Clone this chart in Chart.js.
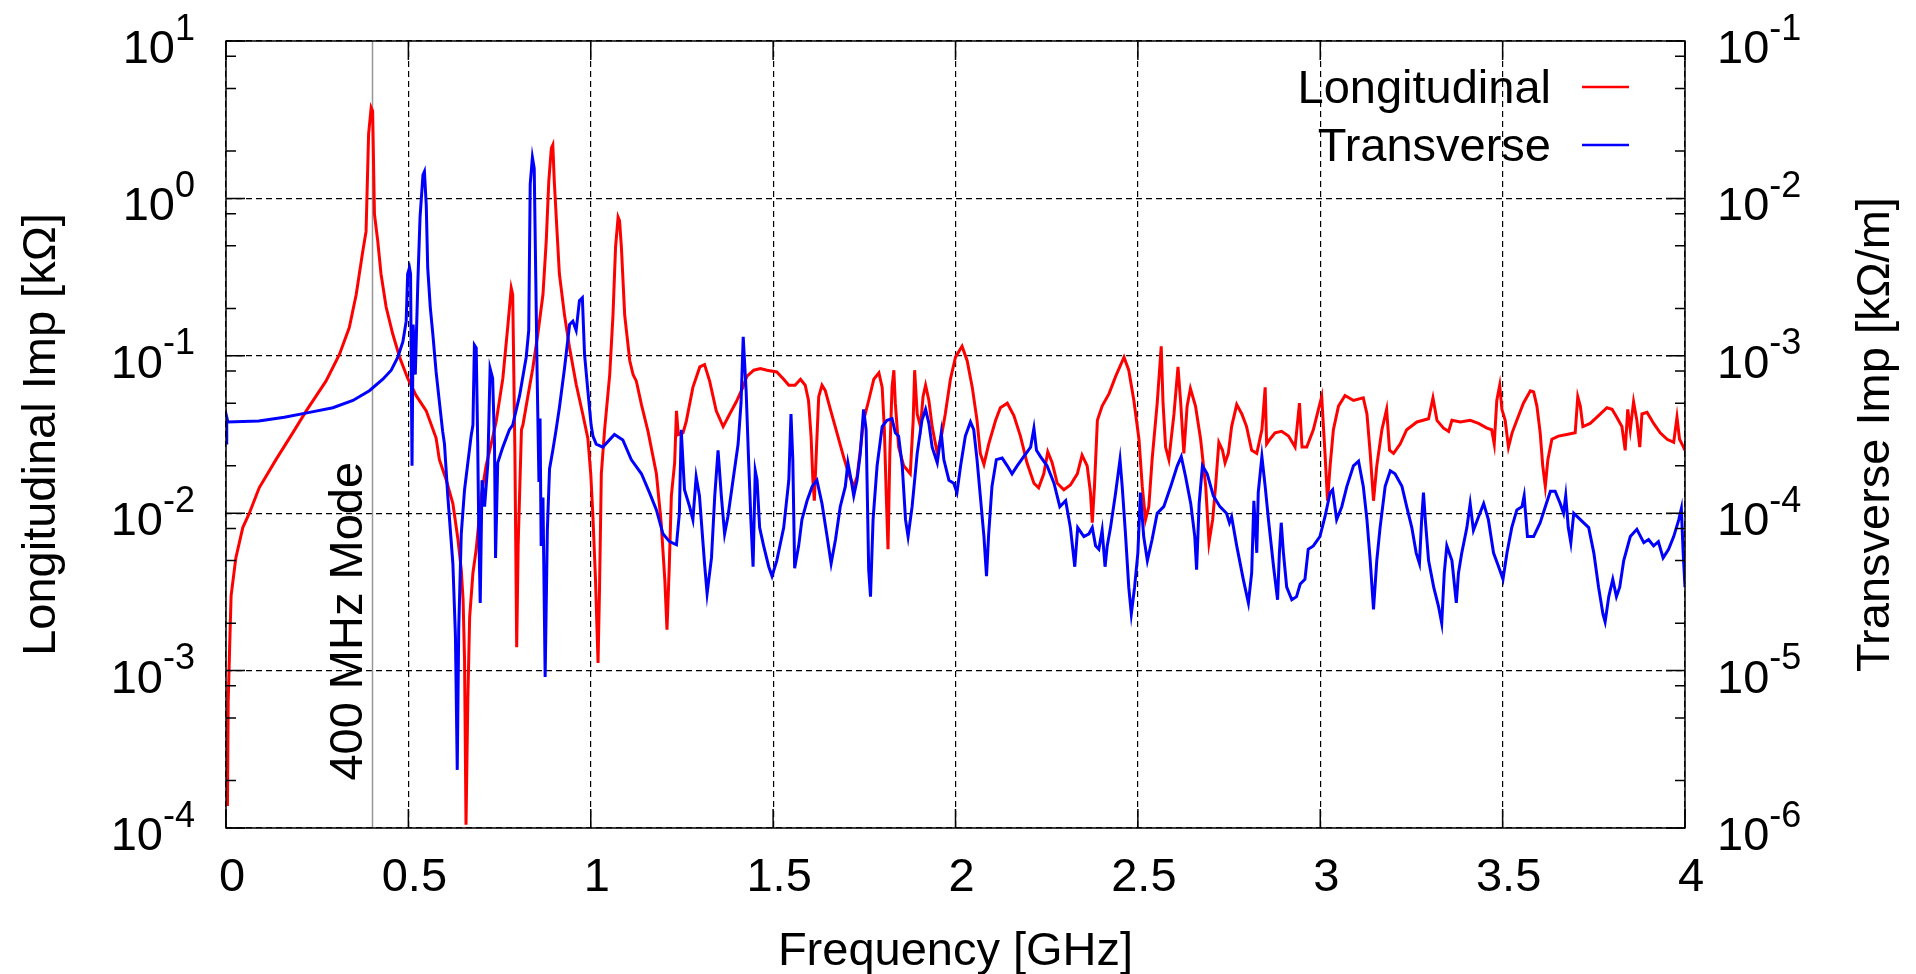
<!DOCTYPE html>
<html>
<head>
<meta charset="utf-8">
<script src="https://cdn.jsdelivr.net/npm/chart.js"></script>
<style>
  html, body { margin: 0; padding: 0; background: #fff; }
  #wrap { width: 1916px; height: 974px; }
</style>
</head>
<body>
<div id="wrap"><canvas id="myChart"></canvas></div>
<script>
// Longitudinal impedance [kOhm] vs frequency [GHz]
const freqL = [
  0.004, 0.006, 0.010, 0.014, 0.027, 0.046, 0.064, 0.091, 0.137, 0.183,
  0.220, 0.274, 0.311, 0.338, 0.357, 0.375, 0.384, 0.391, 0.398, 0.402,
  0.407, 0.416, 0.425, 0.439, 0.457, 0.476, 0.498, 0.521, 0.549, 0.576,
  0.585, 0.604, 0.622, 0.636, 0.645, 0.650, 0.654, 0.658, 0.663, 0.668,
  0.677, 0.686, 0.700, 0.713, 0.727, 0.741, 0.759, 0.773, 0.782, 0.786,
  0.788, 0.792, 0.797, 0.801, 0.810, 0.814, 0.828, 0.841, 0.855, 0.869,
  0.878, 0.885, 0.892, 0.896, 0.900, 0.908, 0.914, 0.928, 0.942, 0.960,
  0.978, 0.992, 1.000, 1.006, 1.013, 1.020, 1.024, 1.029, 1.038, 1.052,
  1.061, 1.068, 1.075, 1.079, 1.084, 1.093, 1.107, 1.116, 1.125, 1.139,
  1.157, 1.180, 1.193, 1.203, 1.209, 1.215, 1.221, 1.230, 1.235, 1.240,
  1.253, 1.262, 1.280, 1.299, 1.312, 1.326, 1.344, 1.363, 1.381, 1.399,
  1.417, 1.428, 1.447, 1.465, 1.483, 1.510, 1.529, 1.543, 1.560, 1.575,
  1.588, 1.597, 1.604, 1.609, 1.613, 1.619, 1.625, 1.634, 1.643, 1.657,
  1.675, 1.693, 1.707, 1.721, 1.730, 1.739, 1.748, 1.762, 1.776, 1.790,
  1.799, 1.805, 1.810, 1.815, 1.820, 1.826, 1.831, 1.835, 1.844, 1.858,
  1.876, 1.884, 1.888, 1.895, 1.904, 1.911, 1.918, 1.927, 1.936, 1.950,
  1.963, 1.972, 1.986, 2.000, 2.018, 2.032, 2.046, 2.059, 2.068, 2.078,
  2.091, 2.110, 2.123, 2.142, 2.160, 2.178, 2.196, 2.215, 2.228, 2.242,
  2.253, 2.265, 2.279, 2.297, 2.315, 2.334, 2.347, 2.361, 2.370, 2.375,
  2.381, 2.389, 2.402, 2.421, 2.439, 2.462, 2.475, 2.489, 2.503, 2.512,
  2.521, 2.530, 2.539, 2.553, 2.564, 2.569, 2.576, 2.585, 2.599, 2.610,
  2.617, 2.626, 2.635, 2.644, 2.658, 2.672, 2.686, 2.695, 2.705, 2.713,
  2.722, 2.732, 2.739, 2.748, 2.757, 2.771, 2.785, 2.798, 2.812, 2.826,
  2.840, 2.849, 2.853, 2.862, 2.876, 2.894, 2.913, 2.931, 2.943, 2.950,
  2.963, 2.981, 2.995, 3.004, 3.013, 3.020, 3.027, 3.036, 3.050, 3.068,
  3.091, 3.118, 3.128, 3.137, 3.146, 3.155, 3.169, 3.182, 3.190, 3.201,
  3.219, 3.237, 3.265, 3.297, 3.309, 3.320, 3.338, 3.352, 3.361, 3.384,
  3.411, 3.434, 3.457, 3.470, 3.477, 3.484, 3.492, 3.498, 3.507, 3.516,
  3.526, 3.539, 3.557, 3.576, 3.585, 3.594, 3.603, 3.610, 3.617, 3.624,
  3.635, 3.653, 3.676, 3.699, 3.706, 3.713, 3.720, 3.740, 3.763, 3.786,
  3.800, 3.813, 3.827, 3.836, 3.843, 3.850, 3.859, 3.868, 3.876, 3.882,
  3.896, 3.914, 3.932, 3.951, 3.969, 3.978, 3.985, 3.996, 4.000
];
const longImp = [
  1.38e-4, 6.3e-4, 1.41e-3, 3.0e-3, 5.2e-3, 8.1e-3, 1.0e-2, 1.45e-2, 2.19e-2, 3.24e-2,
  4.47e-2, 6.9e-2, 0.102, 0.151, 0.245, 0.462, 0.617, 2.57, 3.77, 3.59,
  0.794, 0.537, 0.331, 0.204, 0.138, 9.8e-2, 7.2e-2, 5.6e-2, 4.47e-2, 3.0e-2,
  2.19e-2, 1.62e-2, 1.15e-2, 6.8e-3, 4.37e-3, 2.82e-3, 1.17e-3, 1.05e-4, 6.5e-4, 2.19e-3,
  4.17e-3, 5.9e-3, 1.29e-2, 2.0e-2, 2.75e-2, 3.85e-2, 7.2e-2, 0.158, 0.269, 0.245,
  0.117, 2.5e-2, 1.41e-3, 6.3e-3, 3.39e-2, 3.63e-2, 5.6e-2, 8.3e-2, 0.138, 0.245,
  0.537, 1.29, 2.09, 2.19, 1.29, 0.59, 0.331, 0.182, 0.112, 6.6e-2,
  4.27e-2, 3.0e-2, 1.78e-2, 9.5e-3, 3.8e-3, 1.12e-3, 3.24e-3, 1.78e-2, 3.39e-2, 7.6e-2,
  0.182, 0.49, 0.76, 0.72, 0.49, 0.182, 9.3e-2, 7.6e-2, 6.9e-2, 4.9e-2,
  3.31e-2, 1.78e-2, 8.7e-3, 3.8e-3, 1.82e-3, 4.37e-3, 1.29e-2, 2.09e-2, 4.47e-2, 3.16e-2,
  3.24e-2, 3.85e-2, 6.3e-2, 8.5e-2, 8.8e-2, 6.9e-2, 4.47e-2, 3.55e-2, 4.27e-2, 5.1e-2,
  6.3e-2, 7.4e-2, 8.1e-2, 8.3e-2, 8.1e-2, 7.9e-2, 7.1e-2, 6.5e-2, 6.5e-2, 7.1e-2,
  6.5e-2, 5.2e-2, 3.09e-2, 1.62e-2, 1.2e-2, 2.63e-2, 5.5e-2, 6.5e-2, 6.0e-2, 4.57e-2,
  3.24e-2, 2.29e-2, 1.78e-2, 1.48e-2, 1.7e-2, 2.51e-2, 3.89e-2, 5.2e-2, 7.1e-2, 7.8e-2,
  6.3e-2, 3.39e-2, 1.35e-2, 5.9e-3, 2.4e-2, 6.3e-2, 8.1e-2, 5.0e-2, 2.63e-2, 2.0e-2,
  1.78e-2, 3.89e-2, 8.1e-2, 4.27e-2, 3.55e-2, 5.5e-2, 6.5e-2, 5.2e-2, 3.55e-2, 2.4e-2,
  3.24e-2, 4.27e-2, 7.1e-2, 9.8e-2, 0.115, 9.3e-2, 6.3e-2, 3.89e-2, 2.4e-2, 2.04e-2,
  2.75e-2, 3.89e-2, 4.68e-2, 5.0e-2, 4.17e-2, 3.09e-2, 2.09e-2, 1.55e-2, 1.45e-2, 1.78e-2,
  2.45e-2, 2.09e-2, 1.55e-2, 1.41e-2, 1.51e-2, 1.78e-2, 2.34e-2, 2.0e-2, 1.35e-2, 8.7e-3,
  1.48e-2, 3.89e-2, 4.79e-2, 5.75e-2, 7.4e-2, 9.8e-2, 8.1e-2, 5.2e-2, 2.95e-2, 1.48e-2,
  9.1e-3, 1.1e-2, 2.19e-2, 5.0e-2, 0.115, 5.0e-2, 2.63e-2, 2.19e-2, 4.27e-2, 8.5e-2,
  5.2e-2, 2.4e-2, 4.79e-2, 6.2e-2, 4.79e-2, 2.95e-2, 1.48e-2, 6.5e-3, 9.1e-3, 1.48e-2,
  2.82e-2, 2.51e-2, 2.09e-2, 2.4e-2, 3.55e-2, 4.9e-2, 4.27e-2, 3.55e-2, 2.51e-2, 2.4e-2,
  3.39e-2, 6.3e-2, 2.75e-2, 2.95e-2, 3.24e-2, 3.31e-2, 3.09e-2, 2.63e-2, 5.0e-2, 2.63e-2,
  2.63e-2, 3.39e-2, 4.57e-2, 5.5e-2, 2.4e-2, 1.2e-2, 2.0e-2, 3.39e-2, 4.79e-2, 5.6e-2,
  5.2e-2, 5.4e-2, 4.27e-2, 2.4e-2, 1.2e-2, 2.0e-2, 3.39e-2, 4.57e-2, 2.51e-2, 2.4e-2,
  2.75e-2, 3.39e-2, 3.8e-2, 3.98e-2, 5.4e-2, 3.89e-2, 3.47e-2, 3.31e-2, 3.89e-2, 3.8e-2,
  3.89e-2, 3.72e-2, 3.47e-2, 3.39e-2, 2.75e-2, 5.2e-2, 6.5e-2, 4.57e-2, 3.89e-2, 2.63e-2,
  3.24e-2, 3.89e-2, 5.0e-2, 6.0e-2, 5.9e-2, 4.79e-2, 3.24e-2, 2.0e-2, 1.48e-2, 2.19e-2,
  2.95e-2, 3.09e-2, 3.16e-2, 3.24e-2, 5.5e-2, 4.79e-2, 3.55e-2, 3.72e-2, 4.17e-2, 4.68e-2,
  4.57e-2, 4.07e-2, 3.55e-2, 2.51e-2, 4.57e-2, 3.39e-2, 5.1e-2, 3.89e-2, 2.63e-2, 4.27e-2,
  4.37e-2, 3.72e-2, 3.24e-2, 2.95e-2, 2.82e-2, 4.07e-2, 2.95e-2, 2.63e-2, 2.51e-2
];

// Transverse impedance [kOhm/m] vs frequency [GHz]
const freqT = [
  0.000, 0.002, 0.005, 0.090, 0.160, 0.229, 0.293, 0.348, 0.393, 0.430,
  0.453, 0.471, 0.485, 0.494, 0.498, 0.503, 0.506, 0.510, 0.513, 0.519,
  0.526, 0.532, 0.540, 0.544, 0.549, 0.553, 0.560, 0.567, 0.576, 0.585,
  0.594, 0.599, 0.608, 0.622, 0.629, 0.634, 0.638, 0.645, 0.654, 0.663,
  0.672, 0.677, 0.681, 0.686, 0.690, 0.693, 0.697, 0.702, 0.709, 0.718,
  0.724, 0.731, 0.736, 0.739, 0.745, 0.759, 0.777, 0.786, 0.805, 0.823,
  0.830, 0.834, 0.840, 0.845, 0.849, 0.853, 0.858, 0.861, 0.864, 0.869,
  0.875, 0.881, 0.887, 0.896, 0.905, 0.914, 0.928, 0.942, 0.951, 0.960,
  0.969, 0.977, 0.983, 0.992, 1.001, 1.006, 1.015, 1.033, 1.065, 1.088,
  1.111, 1.139, 1.161, 1.180, 1.198, 1.216, 1.235, 1.243, 1.248, 1.257,
  1.271, 1.280, 1.289, 1.298, 1.312, 1.319, 1.331, 1.340, 1.349, 1.358,
  1.367, 1.376, 1.390, 1.404, 1.412, 1.418, 1.426, 1.433, 1.439, 1.445,
  1.451, 1.456, 1.463, 1.474, 1.488, 1.497, 1.510, 1.529, 1.543, 1.549,
  1.554, 1.559, 1.570, 1.579, 1.593, 1.607, 1.620, 1.634, 1.648, 1.659,
  1.671, 1.684, 1.698, 1.705, 1.714, 1.721, 1.730, 1.739, 1.748, 1.755,
  1.762, 1.767, 1.774, 1.785, 1.799, 1.812, 1.826, 1.835, 1.844, 1.854,
  1.863, 1.870, 1.881, 1.895, 1.908, 1.918, 1.927, 1.936, 1.950, 1.961,
  1.968, 1.982, 1.995, 2.004, 2.014, 2.027, 2.041, 2.050, 2.059, 2.068,
  2.078, 2.085, 2.091, 2.100, 2.112, 2.128, 2.142, 2.155, 2.169, 2.187,
  2.206, 2.215, 2.222, 2.233, 2.251, 2.270, 2.286, 2.302, 2.315, 2.327,
  2.335, 2.352, 2.366, 2.375, 2.384, 2.393, 2.402, 2.410, 2.416, 2.425,
  2.439, 2.451, 2.457, 2.466, 2.475, 2.482, 2.491, 2.500, 2.507, 2.516,
  2.526, 2.539, 2.553, 2.571, 2.590, 2.608, 2.619, 2.631, 2.645, 2.656,
  2.661, 2.668, 2.677, 2.690, 2.707, 2.725, 2.743, 2.751, 2.757, 2.771,
  2.789, 2.803, 2.812, 2.818, 2.826, 2.830, 2.840, 2.849, 2.858, 2.872,
  2.883, 2.888, 2.893, 2.899, 2.908, 2.922, 2.935, 2.945, 2.958, 2.967,
  2.981, 2.999, 3.013, 3.027, 3.034, 3.045, 3.059, 3.073, 3.091, 3.105,
  3.118, 3.128, 3.137, 3.146, 3.155, 3.164, 3.178, 3.192, 3.205, 3.224,
  3.237, 3.251, 3.263, 3.272, 3.278, 3.283, 3.288, 3.297, 3.311, 3.324,
  3.333, 3.340, 3.347, 3.361, 3.373, 3.379, 3.388, 3.402, 3.411, 3.420,
  3.434, 3.448, 3.461, 3.475, 3.489, 3.501, 3.512, 3.525, 3.539, 3.553,
  3.559, 3.568, 3.585, 3.603, 3.617, 3.631, 3.644, 3.658, 3.667, 3.673,
  3.680, 3.687, 3.695, 3.713, 3.736, 3.750, 3.763, 3.775, 3.781, 3.791,
  3.802, 3.812, 3.821, 3.832, 3.850, 3.868, 3.887, 3.900, 3.914, 3.927,
  3.940, 3.955, 3.969, 3.983, 3.990, 3.995, 4.000
];
const transImp = [
  2.79e-4, 4.07e-4, 3.8e-4, 3.85e-4, 4.07e-4, 4.37e-4, 4.68e-4, 5.2e-4, 6.0e-4, 7.1e-4,
  8.1e-4, 9.8e-4, 1.23e-3, 1.66e-3, 3.31e-3, 3.63e-3, 3.31e-3, 2.0e-4, 1.58e-3, 7.6e-4,
  2.95e-3, 7.6e-3, 1.41e-2, 1.48e-2, 9.1e-3, 3.63e-3, 2.04e-3, 1.38e-3, 7.9e-4, 5.1e-4,
  3.31e-4, 2.75e-4, 1.29e-4, 4.79e-5, 1.66e-5, 2.34e-6, 1.82e-5, 7.4e-5, 1.41e-4, 2.09e-4,
  3.09e-4, 3.63e-4, 1.17e-3, 1.12e-3, 2.88e-4, 7.8e-5, 2.69e-5, 1.62e-4, 1.1e-4, 2.09e-4,
  8.3e-4, 7.2e-4, 2.88e-4, 5.2e-5, 2.09e-4, 2.63e-4, 3.39e-4, 3.63e-4, 5.6e-4, 9.8e-4,
  1.45e-3, 1.23e-2, 1.82e-2, 1.55e-2, 3.47e-3, 7.6e-4, 1.58e-4, 4.0e-4, 6.2e-5, 1.26e-4,
  9.1e-6, 7.8e-5, 1.91e-4, 2.51e-4, 3.39e-4, 4.68e-4, 8.3e-4, 1.58e-3, 1.66e-3, 1.45e-3,
  2.24e-3, 2.34e-3, 1.02e-3, 6.0e-4, 3.63e-4, 3.09e-4, 2.75e-4, 2.63e-4, 3.16e-4, 2.92e-4,
  2.19e-4, 1.78e-4, 1.35e-4, 1.05e-4, 7.4e-5, 6.6e-5, 6.3e-5, 1.0e-4, 3.39e-4, 1.41e-4,
  1.1e-4, 9.1e-5, 1.7e-4, 1.29e-4, 4.79e-5, 3.09e-5, 5.2e-5, 1.29e-4, 2.51e-4, 1.29e-4,
  7.4e-5, 9.5e-5, 1.62e-4, 2.75e-4, 5.0e-4, 1.32e-3, 6.0e-4, 2.09e-4, 9.1e-5, 4.57e-5,
  1.86e-4, 1.62e-4, 8.1e-5, 6.2e-5, 4.57e-5, 3.98e-5, 5.0e-5, 8.1e-5, 1.62e-4, 4.27e-4,
  2.19e-4, 4.47e-5, 6.2e-5, 9.1e-5, 1.2e-4, 1.48e-4, 1.62e-4, 1.15e-4, 7.1e-5, 4.79e-5,
  6.8e-5, 1.1e-4, 1.48e-4, 2.09e-4, 1.62e-4, 1.29e-4, 1.62e-4, 2.4e-4, 4.57e-4, 3.39e-4,
  4.37e-5, 2.95e-5, 9.1e-5, 2.0e-4, 3.55e-4, 3.89e-4, 3.98e-4, 3.24e-4, 3.09e-4, 2.0e-4,
  9.1e-5, 7.1e-5, 1.1e-4, 2.4e-4, 3.89e-4, 4.57e-4, 3.72e-4, 2.63e-4, 2.09e-4, 3.24e-4,
  2.19e-4, 1.62e-4, 1.55e-4, 1.35e-4, 2.0e-4, 3.09e-4, 3.8e-4, 3.39e-4, 2.19e-4, 1.29e-4,
  7.1e-5, 3.98e-5, 7.4e-5, 1.48e-4, 2.19e-4, 2.24e-4, 2.0e-4, 1.78e-4, 2.0e-4, 2.29e-4,
  2.63e-4, 3.47e-4, 2.51e-4, 2.29e-4, 2.0e-4, 1.55e-4, 1.1e-4, 1.2e-4, 8.1e-5, 4.57e-5,
  8.1e-5, 7.1e-5, 7.4e-5, 8.1e-5, 6.2e-5, 5.9e-5, 7.8e-5, 4.57e-5, 6.2e-5, 8.1e-5,
  1.35e-4, 2.19e-4, 1.48e-4, 7.4e-5, 3.39e-5, 2.29e-5, 3.39e-5, 5.6e-5, 1.35e-4, 7.1e-5,
  5.0e-5, 6.8e-5, 1.0e-4, 1.1e-4, 1.48e-4, 2.0e-4, 2.29e-4, 1.7e-4, 1.15e-4, 7.1e-5,
  4.37e-5, 1.15e-4, 2.0e-4, 1.78e-4, 1.29e-4, 1.1e-4, 1.0e-4, 8.7e-5, 9.5e-5, 6.2e-5,
  3.8e-5, 2.69e-5, 4.17e-5, 1.2e-4, 5.6e-5, 1.35e-4, 2.29e-4, 1.48e-4, 9.1e-5, 4.57e-5,
  2.82e-5, 5.6e-5, 8.7e-5, 5.6e-5, 3.39e-5, 2.82e-5, 2.95e-5, 3.55e-5, 3.8e-5, 5.9e-5,
  6.2e-5, 7.1e-5, 9.5e-5, 1.35e-4, 1.41e-4, 9.1e-5, 1.1e-4, 1.48e-4, 2.0e-4, 2.14e-4,
  1.48e-4, 9.1e-5, 5.0e-5, 2.45e-5, 5.0e-5, 8.1e-5, 1.48e-4, 1.86e-4, 1.78e-4, 1.48e-4,
  1.1e-4, 8.1e-5, 5.6e-5, 4.79e-5, 9.1e-5, 1.35e-4, 9.1e-5, 5.0e-5, 3.39e-5, 2.57e-5,
  2.0e-5, 4.17e-5, 6.2e-5, 5.0e-5, 2.69e-5, 4.17e-5, 5.6e-5, 8.1e-5, 1.15e-4, 7.8e-5,
  9.5e-5, 1.15e-4, 9.1e-5, 5.6e-5, 4.57e-5, 3.8e-5, 5.6e-5, 8.1e-5, 1.05e-4, 1.1e-4,
  1.29e-4, 7.1e-5, 7.1e-5, 8.7e-5, 1.1e-4, 1.38e-4, 1.38e-4, 1.15e-4, 1.0e-4, 1.29e-4,
  8.1e-5, 6.5e-5, 1.0e-4, 9.1e-5, 8.1e-5, 5.6e-5, 3.39e-5, 2.29e-5, 2.04e-5, 2.95e-5,
  3.8e-5, 2.95e-5, 3.39e-5, 5.0e-5, 7.1e-5, 7.9e-5, 6.5e-5, 6.8e-5, 6.2e-5, 6.6e-5,
  5.2e-5, 5.9e-5, 7.1e-5, 9.1e-5, 1.07e-4, 5.6e-5, 3.39e-5
];

// axes
const xTicks = [0, 0.5, 1, 1.5, 2, 2.5, 3, 3.5, 4];
const xTickLabels = ['0', '0.5', '1', '1.5', '2', '2.5', '3', '3.5', '4'];
const leftTicks = [1e-4, 1e-3, 1e-2, 1e-1, 1, 10];
const leftTickExp = ['-4', '-3', '-2', '-1', '0', '1'];
const rightTicks = [1e-6, 1e-5, 1e-4, 1e-3, 1e-2, 1e-1];
const rightTickExp = ['-6', '-5', '-4', '-3', '-2', '-1'];
const minorSteps = [2, 5, 8];
const modeFreq = 0.4;
const modeLabelAt = 2e-4;

const FONT = '"Liberation Sans", Arial, Helvetica, sans-serif';

function powerLabel(ctx, x, y, exp, align) {
    ctx.font = '47px ' + FONT;
    const wb = ctx.measureText('10').width;
    ctx.font = '36px ' + FONT;
    const we = ctx.measureText(exp).width;
    const x0 = align === 'right' ? x - wb - we : x;
    ctx.textAlign = 'left';
    ctx.textBaseline = 'alphabetic';
    ctx.font = '47px ' + FONT;
    ctx.fillText('10', x0, y + 22);
    ctx.font = '36px ' + FONT;
    ctx.fillText(exp, x0 + wb, y - 1.5);
}

const framePlugin = {
    id: 'frame',
    beforeDatasetsDraw(chart) {
        // 400 MHz marker line
        const {ctx, chartArea: a, scales: {x}} = chart;
        const px = Math.round(x.getPixelForValue(modeFreq)) + 0.5;
        ctx.save();
        ctx.strokeStyle = 'rgb(150,150,150)';
        ctx.lineWidth = 1.5;
        ctx.beginPath();
        ctx.moveTo(px, a.top);
        ctx.lineTo(px, a.bottom);
        ctx.stroke();
        ctx.restore();
    },
    afterDatasetsDraw(chart) {
        const {ctx, chartArea: a, scales: {x, y, y2}} = chart;
        ctx.save();
        ctx.strokeStyle = '#000';
        ctx.lineWidth = 1.5;
        ctx.strokeRect(a.left, a.top, a.right - a.left, a.bottom - a.top);
        ctx.beginPath();
        // ticks point inwards, like the original
        x.ticks.forEach(t => {
            const p = x.getPixelForValue(t.value);
            ctx.moveTo(p, a.bottom); ctx.lineTo(p, a.bottom - 19);
            ctx.moveTo(p, a.top); ctx.lineTo(p, a.top + 19);
        });
        [[y, a.left, 1], [y2, a.right, -1]].forEach(([s, edge, dir]) => {
            s.ticks.forEach(t => {
                const p = s.getPixelForValue(t.value);
                ctx.moveTo(edge, p); ctx.lineTo(edge + dir * 19, p);
                if (t.value < s.max) {
                    minorSteps.forEach(m => {
                        const q = s.getPixelForValue(t.value * m);
                        ctx.moveTo(edge, q); ctx.lineTo(edge + dir * 10, q);
                    });
                }
            });
        });
        ctx.stroke();
        ctx.restore();
    },
    afterDraw(chart) {
        const {ctx, chartArea: a, scales: {x, y, y2}} = chart;
        const midY = (a.top + a.bottom) / 2;
        ctx.save();
        ctx.fillStyle = '#000';

        // y tick labels with superscripts
        leftTicks.forEach((v, i) => powerLabel(ctx, a.left - 31, y.getPixelForValue(v), leftTickExp[i], 'right'));
        rightTicks.forEach((v, i) => powerLabel(ctx, a.right + 32, y2.getPixelForValue(v), rightTickExp[i], 'left'));

        // y axis titles, both read bottom to top
        ctx.font = '47px ' + FONT;
        ctx.textAlign = 'center';
        ctx.textBaseline = 'alphabetic';
        [[55, 'Longitudinal Imp [kΩ]'], [a.right + 204, 'Transverse Imp [kΩ/m]']].forEach(([tx, txt]) => {
            ctx.save();
            ctx.translate(tx, midY);
            ctx.rotate(-Math.PI / 2);
            ctx.fillText(txt, 0, 0);
            ctx.restore();
        });

        // 400 MHz label
        ctx.save();
        ctx.translate(x.getPixelForValue(modeFreq) - 10, y.getPixelForValue(modeLabelAt));
        ctx.rotate(-Math.PI / 2);
        ctx.textAlign = 'left';
        ctx.fillText('400 MHz Mode', 0, 0);
        ctx.restore();

        // key, top right inside the frame
        chart.data.datasets.forEach((ds, i) => {
            const ry = a.top + 46 + i * 58;
            ctx.fillStyle = '#000';
            ctx.textAlign = 'right';
            ctx.fillText(ds.label, a.right - 134, ry + 16);
            ctx.strokeStyle = ds.borderColor;
            ctx.lineWidth = 2.5;
            ctx.beginPath();
            ctx.moveTo(a.right - 103, ry);
            ctx.lineTo(a.right - 56, ry);
            ctx.stroke();
        });
        ctx.restore();
    }
};

const data = {
    datasets: [{
        label: 'Longitudinal',
        data: freqL.map((f, i) => ({x: f, y: longImp[i]})),
        borderColor: 'rgb(255,0,0)',
        borderWidth: 3,
        pointRadius: 0,
        tension: 0,
        yAxisID: 'y',
        order: 1
    }, {
        label: 'Transverse',
        data: freqT.map((f, i) => ({x: f, y: transImp[i]})),
        borderColor: 'rgb(0,0,255)',
        borderWidth: 3,
        pointRadius: 0,
        tension: 0,
        yAxisID: 'y2',
        order: 0
    }]
};

const config = {
    type: 'line',
    data: data,
    plugins: [framePlugin],
    options: {
        responsive: true,
        maintainAspectRatio: false,
        animation: false,
        layout: { padding: { top: 41, left: 0, right: 0, bottom: 0 } },
        plugins: {
            legend: { display: false },
            tooltip: { enabled: false }
        },
        scales: {
            x: {
                type: 'linear',
                min: 0,
                max: 4,
                afterBuildTicks: s => { s.ticks = xTicks.map(v => ({value: v})); },
                afterFit: s => { s.height = 146; },
                ticks: {
                    color: '#000',
                    font: { family: FONT, size: 47 },
                    padding: 22,
                    labelOffset: 6,
                    maxRotation: 0,
                    autoSkip: false,
                    callback: (v, i) => xTickLabels[i]
                },
                grid: { color: '#000', lineWidth: 1.2, drawTicks: false },
                border: { display: false, dash: [6, 4] },
                title: {
                    display: true,
                    text: 'Frequency [GHz]',
                    color: '#000',
                    font: { family: FONT, size: 47, lineHeight: 0.94 },
                    padding: 0
                }
            },
            y: {
                type: 'logarithmic',
                position: 'left',
                min: 1e-4,
                max: 10,
                afterBuildTicks: s => { s.ticks = leftTicks.map(v => ({value: v})); },
                afterFit: s => { s.width = 226; },
                ticks: { display: false },
                grid: { color: '#000', lineWidth: 1.2, drawTicks: false },
                border: { display: false, dash: [6, 4] }
            },
            y2: {
                type: 'logarithmic',
                position: 'right',
                min: 1e-6,
                max: 1e-1,
                afterBuildTicks: s => { s.ticks = rightTicks.map(v => ({value: v})); },
                afterFit: s => { s.width = 231; },
                ticks: { display: false },
                grid: { drawOnChartArea: false, drawTicks: false },
                border: { display: false }
            }
        }
    }
};

const myChart = new Chart(document.getElementById('myChart'), config);
</script>
</body>
</html>
